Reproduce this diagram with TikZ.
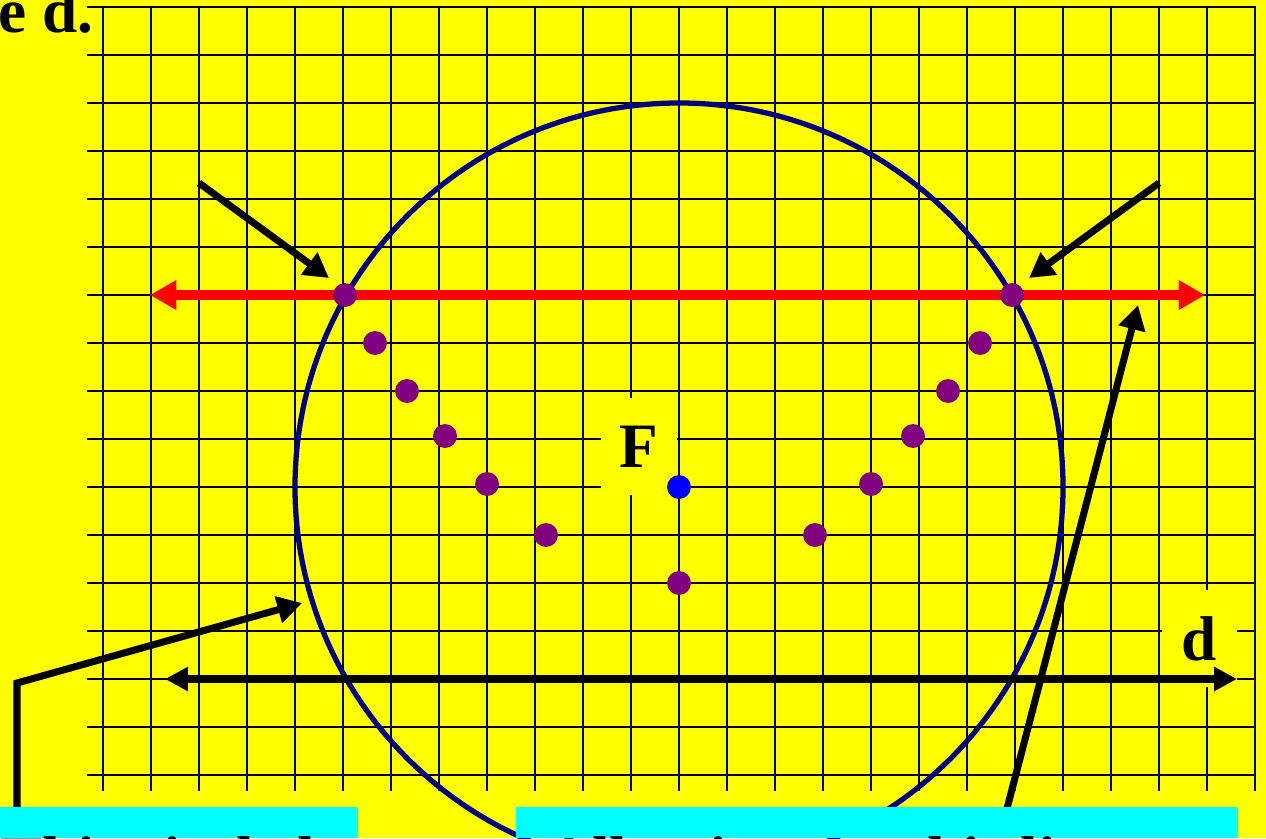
\documentclass[tikz,border=0pt]{standalone}
\usepackage{fontspec}
\setmainfont{Liberation Serif}
\usetikzlibrary{arrows.meta}
\definecolor{cBg}{HTML}{FFFF00}
\definecolor{cBox}{HTML}{00FFFF}
\definecolor{cCirc}{HTML}{000080}
\definecolor{cPt}{HTML}{800080}
\definecolor{cFoc}{HTML}{0000FF}
\definecolor{cLine}{HTML}{FF0000}
\tikzset{
  gridline/.style={draw=black, line width=1.1pt},
  lbl/.style={font=\fontsize{36}{40}\selectfont\bfseries, inner sep=0pt},
  lblbox/.style={lbl, fill=cBg, minimum width=43pt, minimum height=55pt},
  pdot/.style={circle, fill=cPt, minimum size=13.6pt, inner sep=0pt},
  fdot/.style={circle, fill=cFoc, minimum size=13.6pt, inner sep=0pt},
  redline/.style={draw=cLine, line width=5.3pt,
    {Triangle[length=15pt, width=16pt]}-{Triangle[length=15pt, width=16pt]}},
  dirline/.style={draw=black, line width=4.5pt,
    {Triangle[length=13pt, width=13pt]}-{Triangle[length=13pt, width=13pt]}},
  pointer/.style={draw=black, line width=4pt, -{Triangle[length=14pt, width=15pt]}},
  callout/.style={fill=cBox},
}

\begin{document}
\begin{tikzpicture}[x=0.02cm, y=-0.02cm]
    \useasboundingbox (0,0) rectangle (1266,838);
    \fill[cBg] (0,0) rectangle (1266,838);
    % grid
    \foreach \x in {103,151,...,1255}
      \draw[gridline] (\x,7) -- (\x,791);
    \foreach \y in {7,55,...,775}
      \draw[gridline] (87,\y) -- (1256,\y);
    \node[lbl, anchor=base west] (title) at (-2,33) {e d.};
    % labels F and d
    \node[lblbox] (flabel) at (639,446.5) {F};
    \node[lblbox] (dlabel) at (1199.5,638.5) {d};
    % circle about the focus
    \draw[cCirc, line width=3pt] (679,487) circle (384);
    % red line and directrix
    \coordinate (rl) at (150,295);
    \coordinate (rr) at (1205,295);
    \draw[redline] (rl) -- (rr);
    \coordinate (dl) at (165,679);
    \coordinate (dr) at (1237,679);
    \draw[dirline] (dl) -- (dr);
    % points of the parabola
    \node[pdot] (pl) at (345,295) {};
    \node[pdot] (pr) at (1012,295) {};
    \node[pdot] (p1) at (375,343) {};
    \node[pdot] (p2) at (407,391) {};
    \node[pdot] (p3) at (445,436) {};
    \node[pdot] (p4) at (487,484) {};
    \node[pdot] (p5) at (546,535) {};
    \node[pdot] (v) at (679,583) {};
    \node[pdot] (q5) at (815,535) {};
    \node[pdot] (q4) at (871,484) {};
    \node[pdot] (q3) at (913,436) {};
    \node[pdot] (q2) at (948,391) {};
    \node[pdot] (q1) at (980,343) {};
    \node[fdot] (focus) at (679,487) {};
    % pointers
    \coordinate (a1s) at (199,183);
    \coordinate (a1e) at (329,278);
    \draw[pointer] (a1s) -- (a1e);
    \coordinate (a2s) at (1159,183);
    \coordinate (a2e) at (1029,278);
    \draw[pointer] (a2s) -- (a2e);
    \coordinate (a3s) at (17,820);
    \coordinate (a3c) at (17,683);
    \coordinate (a3e) at (302,603);
    \draw[pointer] (a3s) -- (a3c) -- (a3e);
    \coordinate (a4s) at (1004,820);
    \coordinate (a4e) at (1138,305);
    \draw[pointer] (a4s) -- (a4e);
    % callout boxes, cut by the lower edge
    \fill[callout] (0,807) rectangle (358,838);
    \fill[callout] (516,807) rectangle (1238,838);
    \begin{scope}
      \clip (0,0) rectangle (1266,838);
      \node[lbl, anchor=base west] (leftnote) at (0,880) {This circle has};
      \node[lbl, anchor=base west] (rightnote) at (546,880) {All points on this line};
    \end{scope}
\end{tikzpicture}
\end{document}
